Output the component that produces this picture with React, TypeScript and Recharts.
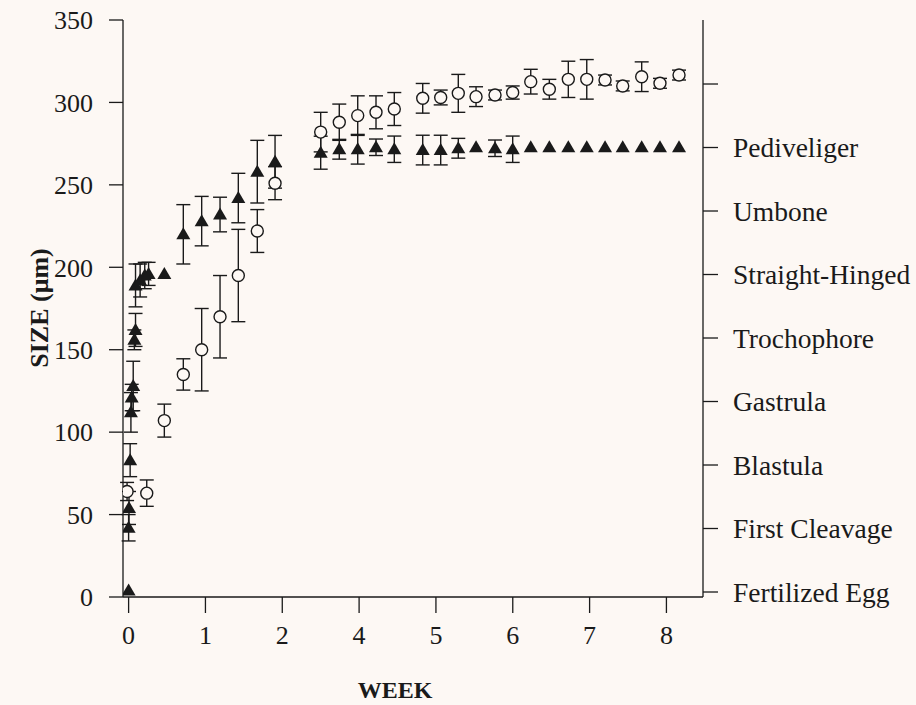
import React from 'react';
import { ScatterChart, Scatter, XAxis, YAxis, ErrorBar } from 'recharts';

// week axis is drawn with evenly spaced ticks (the "3" is skipped on the original)
const weekTicks = ['0', '1', '2', '4', '5', '6', '7', '8'];
const stageLabels = [
  'Fertilized Egg',
  'First Cleavage',
  'Blastula',
  'Gastrula',
  'Trochophore',
  'Straight-Hinged',
  'Umbone',
  'Pediveliger',
  '',
];
const sizeTicks = [0, 50, 100, 150, 200, 250, 300, 350];

// x values are positions along the week axis (tick index units)
const trianglePos = [
  0, 0, 0.005, 0.02, 0.03, 0.04, 0.06, 0.075, 0.09, 0.09, 0.15, 0.21, 0.26, 0.465,
  0.712, 0.951, 1.19, 1.428, 1.675, 1.906,
  2.5, 2.742, 2.982, 3.22, 3.458, 3.828, 4.062, 4.291, 4.522, 4.769, 4.999, 5.234,
  5.476, 5.723, 5.963, 6.201, 6.431, 6.678, 6.916, 7.164,
];
const triangleSize = [
  4, 42, 54, 83, 112, 121, 128, 156, 162, 189, 192, 195, 196, 196,
  220, 228, 232, 242, 258, 264,
  269.5, 271.6, 271.6, 272.8, 271.6, 271.1, 271.1, 272.2, 272.8, 272.2, 271.6, 272.8,
  272.8, 272.8, 272.8, 272.8, 272.8, 272.8, 272.8, 272.8,
];
const triangleErr = [
  0, 8, 10, 10, 12, 8, 15, 6, 10, 13, 10, 8, 7, 0,
  18, 15, 10.5, 15, 19, 16,
  10, 6, 9, 5, 8, 9, 9, 6, 0, 5, 8, 0,
  0, 0, 0, 0, 0, 0, 0, 0,
];

const circlePos = [
  -0.02, 0.236, 0.465, 0.712, 0.951, 1.19, 1.428, 1.675, 1.906,
  2.5, 2.742, 2.982, 3.22, 3.458, 3.828, 4.062, 4.291, 4.522, 4.769, 4.999, 5.234,
  5.476, 5.723, 5.963, 6.201, 6.431, 6.678, 6.916, 7.164,
];
const circleSize = [
  64, 63, 107, 135, 150, 170, 195, 222, 251,
  282, 288, 292, 294, 296, 302.5, 303, 305.5, 303.5, 304.5, 306, 312.6,
  308, 314, 314, 313.6, 310, 315.6, 311.6, 316.6,
];
const circleErr = [
  5.5, 8, 10, 9.5, 25, 25, 28, 13, 10,
  12, 11, 12, 10, 10, 9, 4.5, 11.5, 6, 3, 4, 7.5,
  6, 11, 12, 3, 3, 9, 3, 3,
];

const triangleData = trianglePos.map((x, i) => ({ x, y: triangleSize[i], err: triangleErr[i] }));
const circleData = circlePos.map((x, i) => ({ x, y: circleSize[i], err: circleErr[i] }));

const INK = '#1a1a1a';
const BG = '#fdf8f4';
const FONT = '"Liberation Serif", "Times New Roman", serif';

const TriangleDot = (props: any) => {
  const { cx, cy } = props;
  return <path d={`M${cx},${cy - 7}L${cx + 7},${cy + 5}L${cx - 7},${cy + 5}Z`} fill={INK} />;
};

const CircleDot = (props: any) => {
  const { cx, cy } = props;
  return <circle cx={cx} cy={cy} r={6} fill={BG} stroke={INK} strokeWidth={1.4} />;
};

export default function App() {
  const axisLine = { stroke: INK, strokeWidth: 1.3 };
  const tickStyle = { fill: INK, fontSize: 26, fontFamily: FONT };

  return (
    <div
      style={{
        position: 'absolute',
        left: 0,
        top: 0,
        width: 916,
        height: 705,
        background: BG,
        fontFamily: FONT,
        color: INK,
      }}
    >
      <ScatterChart width={916} height={705} margin={{ top: 20, right: 0, bottom: 0, left: 0 }}>
        <XAxis
          type="number"
          dataKey="x"
          domain={[-0.073, 7.476]}
          allowDataOverflow
          ticks={[0, 1, 2, 3, 4, 5, 6, 7]}
          tickFormatter={(v: number) => weekTicks[v]}
          height={108}
          axisLine={axisLine}
          tickLine={axisLine}
          tickSize={16}
          tickMargin={13}
          tick={tickStyle}
        />
        <YAxis
          yAxisId="size"
          type="number"
          dataKey="y"
          domain={[0, 350]}
          ticks={sizeTicks}
          width={123}
          axisLine={axisLine}
          tickLine={axisLine}
          tickSize={14}
          tickMargin={16}
          tick={tickStyle}
        />
        <YAxis
          yAxisId="stage"
          orientation="right"
          type="number"
          domain={[-0.0787, 9.008]}
          allowDataOverflow
          ticks={[0, 1, 2, 3, 4, 5, 6, 7, 8]}
          tickFormatter={(v: number) => stageLabels[v]}
          width={213}
          axisLine={axisLine}
          tickLine={axisLine}
          tickSize={15}
          tickMargin={15}
          tick={{ ...tickStyle, fontSize: 27.5 }}
        />
        <Scatter yAxisId="size" data={circleData} shape={CircleDot} isAnimationActive={false}>
          <ErrorBar dataKey="err" direction="y" width={7} stroke={INK} strokeWidth={1.4} isAnimationActive={false} />
        </Scatter>
        <Scatter yAxisId="size" data={triangleData} shape={TriangleDot} isAnimationActive={false}>
          <ErrorBar dataKey="err" direction="y" width={7} stroke={INK} strokeWidth={1.4} isAnimationActive={false} />
        </Scatter>
      </ScatterChart>

      <div
        style={{
          position: 'absolute',
          left: 40,
          top: 308,
          transform: 'translate(-50%, -50%) rotate(-90deg)',
          whiteSpace: 'nowrap',
          fontWeight: 'bold',
          fontSize: 26,
        }}
      >
        SIZE (μm)
      </div>
      <div
        style={{
          position: 'absolute',
          left: 395,
          top: 690,
          transform: 'translate(-50%, -50%)',
          whiteSpace: 'nowrap',
          fontWeight: 'bold',
          fontSize: 24,
        }}
      >
        WEEK
      </div>
    </div>
  );
}
